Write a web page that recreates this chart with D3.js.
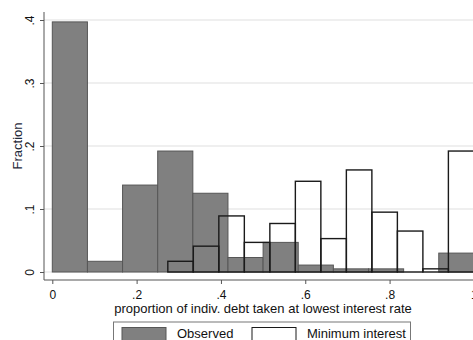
<!DOCTYPE html>
<html>
<head>
<meta charset="utf-8">
<script src="https://cdn.jsdelivr.net/npm/d3@7"></script>
<style>
  html, body { margin: 0; padding: 0; background: #fff; }
  svg { display: block; font-family: "Liberation Sans", Arial, sans-serif; }
</style>
</head>
<body>
<svg id="chart" width="473" height="340"></svg>
<script>
// Histogram of the share of individual debt taken at the lowest interest rate.
// Each series has 12 equal-width bins; values are the fraction of observations per bin.
const binCount = 12;

const observedStart = 0;
const observedEnd = 1;
const observedFraction = [0.397, 0.017, 0.138, 0.192, 0.125, 0.023, 0.047, 0.011, 0.005, 0.005, 0.000, 0.030];

const minimumStart = 0.274;
const minimumEnd = 1;
const minimumFraction = [0.017, 0.041, 0.089, 0.047, 0.077, 0.144, 0.053, 0.162, 0.095, 0.065, 0.005, 0.192];

const xTicks = [0, 0.2, 0.4, 0.6, 0.8, 1];
const xTickLabels = ["0", ".2", ".4", ".6", ".8", "1"];
const yTicks = [0, 0.1, 0.2, 0.3, 0.4];
const yTickLabels = ["0", ".1", ".2", ".3", ".4"];

const seriesNames = ["Observed", "Minimum interest"];
const xTitle = "proportion of indiv. debt taken at lowest interest rate";
const yTitle = "Fraction";

const svg = d3.select("#chart");

const x = d3.scaleLinear().domain([0, 1]).range([52.3, 473.9]);
const y = d3.scaleLinear().domain([0, 0.4]).range([272, 20]);

// Turn a start/end range and per-bin fractions into bin rectangles
function toBins(start, end, values) {
  const w = (end - start) / binCount;
  return values.map((v, i) => ({ x0: start + i * w, x1: start + (i + 1) * w, v }));
}
const observedBins = toBins(observedStart, observedEnd, observedFraction);
const minimumBins = toBins(minimumStart, minimumEnd, minimumFraction);

// Horizontal grid
svg.append("g").selectAll("line")
  .data(yTicks)
  .join("line")
  .attr("x1", 44).attr("x2", 473)
  .attr("y1", d => y(d)).attr("y2", d => y(d))
  .attr("stroke", "#eaeaea")
  .attr("stroke-width", 1.5);

// Observed: filled gray bars
svg.append("g").selectAll("rect")
  .data(observedBins.filter(d => d.v > 0))
  .join("rect")
  .attr("x", d => x(d.x0))
  .attr("width", d => x(d.x1) - x(d.x0))
  .attr("y", d => y(d.v))
  .attr("height", d => y(0) - y(d.v))
  .attr("fill", "#808080")
  .attr("stroke", "#565656")
  .attr("stroke-width", 1);

// Minimum interest: outlined bars with no fill, drawn on top
svg.append("g").selectAll("rect")
  .data(minimumBins)
  .join("rect")
  .attr("x", d => x(d.x0))
  .attr("width", d => x(d.x1) - x(d.x0))
  .attr("y", d => y(d.v))
  .attr("height", d => y(0) - y(d.v))
  .attr("fill", "none")
  .attr("stroke", "#1a1a1a")
  .attr("stroke-width", 1.4);

// Axes
const axisColor = "#555";
const xAxis = d3.axisBottom(x)
  .tickValues(xTicks)
  .tickFormat((d, i) => xTickLabels[i])
  .tickSize(4)
  .tickPadding(6);
const gx = svg.append("g").attr("transform", "translate(0,280)").call(xAxis);
gx.select(".domain").remove();
gx.selectAll(".tick line").attr("stroke", axisColor);
gx.selectAll(".tick text")
  .attr("font-size", 12)
  .attr("font-family", "Liberation Sans, Arial, sans-serif")
  .attr("fill", "#111");

svg.append("line")
  .attr("x1", 44).attr("x2", 473).attr("y1", 280).attr("y2", 280)
  .attr("stroke", axisColor).attr("stroke-width", 1);

const yAxis = d3.axisLeft(y)
  .tickValues(yTicks)
  .tickFormat((d, i) => yTickLabels[i])
  .tickSize(4);
const gy = svg.append("g").attr("transform", "translate(44,0)").call(yAxis);
gy.select(".domain").remove();
gy.selectAll(".tick line").attr("stroke", axisColor);
gy.selectAll(".tick text")
  .attr("font-size", 12)
  .attr("font-family", "Liberation Sans, Arial, sans-serif")
  .attr("fill", "#111")
  .attr("x", null).attr("dy", null)
  .attr("text-anchor", "middle")
  .attr("transform", "translate(-10.5,0) rotate(-90)");

svg.append("line")
  .attr("x1", 44).attr("x2", 44).attr("y1", 12).attr("y2", 280)
  .attr("stroke", axisColor).attr("stroke-width", 1);

// Axis titles
svg.append("text")
  .attr("x", 263).attr("y", 313)
  .attr("text-anchor", "middle")
  .attr("font-size", 13)
  .attr("fill", "#111")
  .text(xTitle);

svg.append("text")
  .attr("transform", "translate(21.5,146) rotate(-90)")
  .attr("text-anchor", "middle")
  .attr("font-size", 13)
  .attr("fill", "#1f2a3a")
  .text(yTitle);

// Legend
const legend = svg.append("g");
legend.append("rect")
  .attr("x", 113.5).attr("y", 322)
  .attr("width", 297).attr("height", 30)
  .attr("fill", "#fff").attr("stroke", "#777").attr("stroke-width", 1);

const keys = [
  { name: seriesNames[0], sx: 122, tx: 177, fill: "#808080", stroke: "#565656" },
  { name: seriesNames[1], sx: 252, tx: 307, fill: "#fff", stroke: "#1a1a1a" }
];
keys.forEach(k => {
  legend.append("rect")
    .attr("x", k.sx).attr("y", 327.5)
    .attr("width", 44).attr("height", 13)
    .attr("fill", k.fill).attr("stroke", k.stroke).attr("stroke-width", 1);
  legend.append("text")
    .attr("x", k.tx).attr("y", 338)
    .attr("font-size", 13)
    .attr("fill", "#111")
    .text(k.name);
});
</script>
</body>
</html>
